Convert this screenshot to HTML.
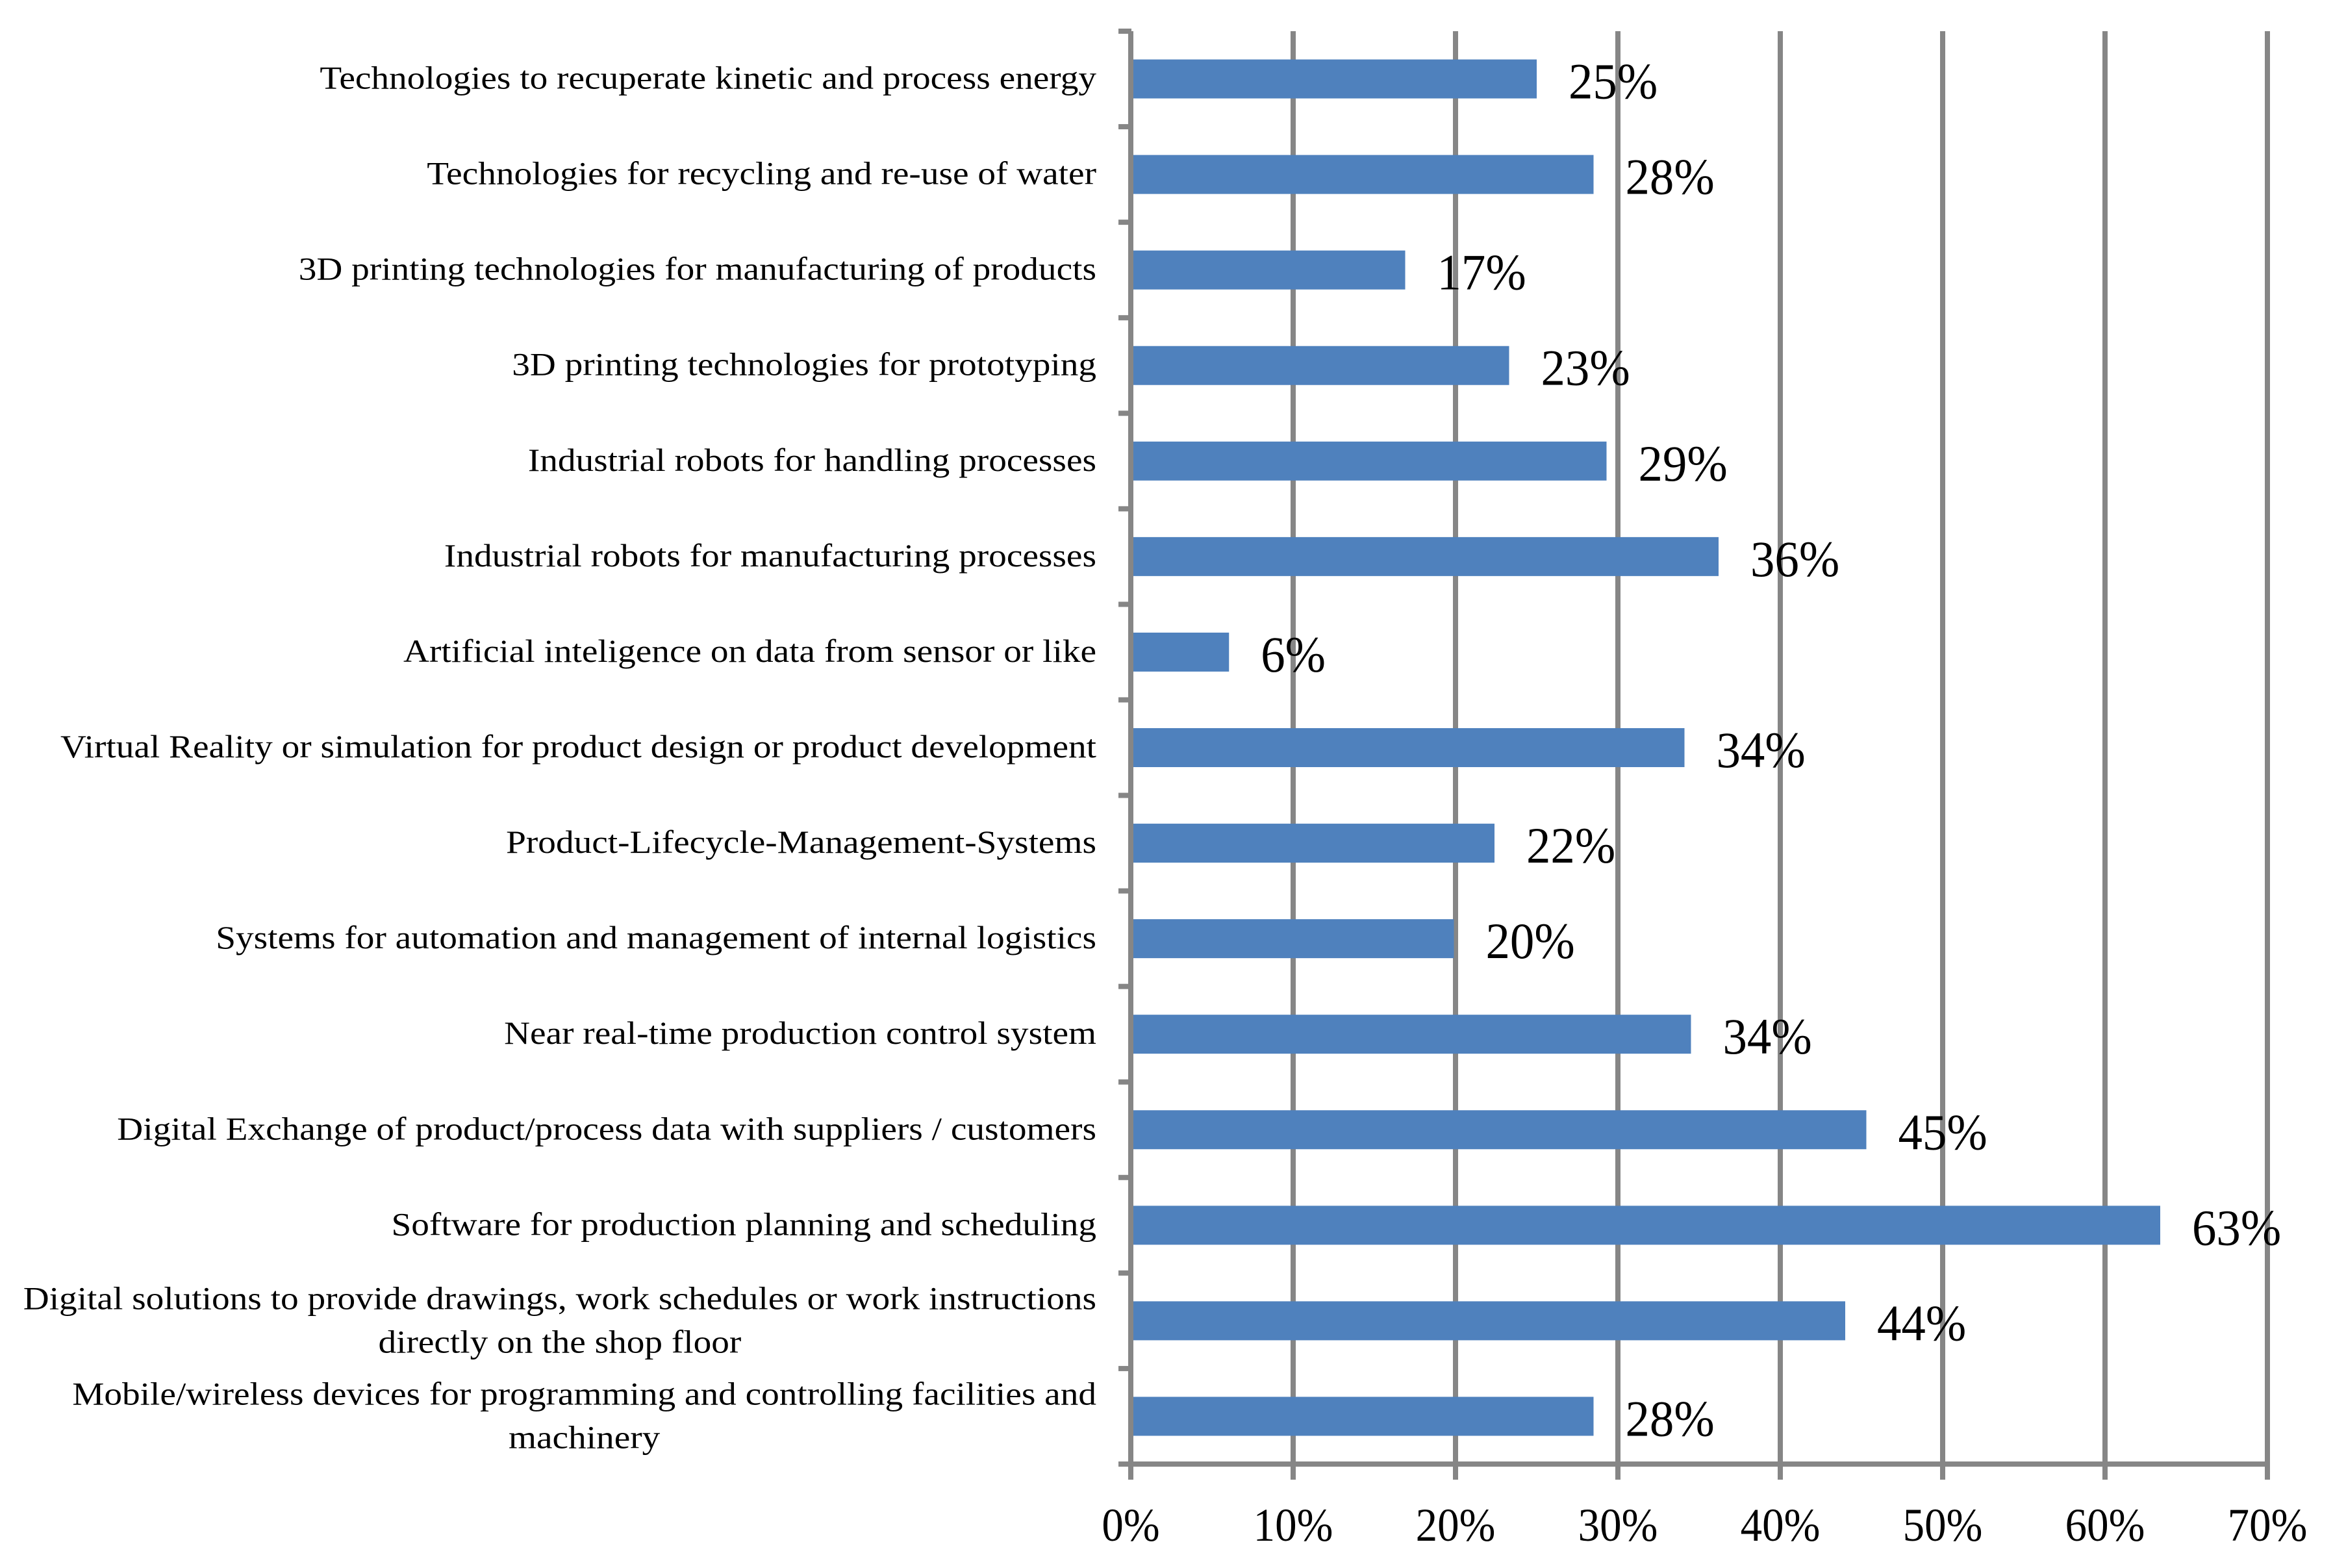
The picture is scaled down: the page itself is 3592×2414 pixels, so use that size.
<!DOCTYPE html>
<html lang="en">
<head>
<meta charset="utf-8">
<title>Technology usage bar chart</title>
<style>
html,body{margin:0;padding:0;background:#fff;width:3592px;height:2414px;overflow:hidden}
svg{display:block}
text{font-family:"Liberation Serif",serif;fill:#000}
</style>
</head>
<body>
<svg id="chart" xmlns="http://www.w3.org/2000/svg" width="3592" height="2414" viewBox="0 0 3592 2414"></svg>
<script>
const categories = [
  ["Technologies to recuperate kinetic and process energy"],
  ["Technologies for recycling and re-use of water"],
  ["3D printing technologies for manufacturing of products"],
  ["3D printing technologies for prototyping"],
  ["Industrial robots for handling processes"],
  ["Industrial robots for manufacturing processes"],
  ["Artificial inteligence on data from sensor or like"],
  ["Virtual Reality or simulation for product design or product development"],
  ["Product-Lifecycle-Management-Systems"],
  ["Systems for automation and management of internal logistics"],
  ["Near real-time production control system"],
  ["Digital Exchange of product/process data with suppliers / customers"],
  ["Software for production planning and scheduling"],
  ["Digital solutions to provide drawings, work schedules or work instructions", "directly on the shop floor"],
  ["Mobile/wireless devices for programming and controlling facilities and", "machinery"]
];
const values = [25.0, 28.5, 16.9, 23.3, 29.3, 36.2, 6.05, 34.1, 22.4, 19.9, 34.5, 45.3, 63.4, 44.0, 28.5];
const printedValues = ["25%", "28%", "17%", "23%", "29%", "36%", "6%", "34%", "22%", "20%", "34%", "45%", "63%", "44%", "28%"];
const xTicks = [0, 10, 20, 30, 40, 50, 60, 70];

const svg = document.getElementById('chart');
const NS = 'http://www.w3.org/2000/svg';
const AX = {left: 1741, right: 3491, top: 48, bottom: 2254, max: 70};
const GREY = '#868686';
const BLUE = '#4f81bd';
const CAT_SCALE = 1.106;

function x(v) { return AX.left + (v / AX.max) * (AX.right - AX.left); }
function band() { return (AX.bottom - AX.top) / categories.length; }
function yEdge(i) { return AX.top + i * band(); }
function yMid(i) { return yEdge(i) + band() / 2; }

function make(tag, attrs, parent) {
  const el = document.createElementNS(NS, tag);
  for (const k in attrs) el.setAttribute(k, attrs[k]);
  (parent || svg).appendChild(el);
  return el;
}

// Gridlines and x tick extensions
xTicks.forEach(function (t) {
  if (t === 0) return;
  const g = make('rect', {x: x(t) - 4, y: AX.top, width: 8, height: 2278 - AX.top, fill: GREY});
  
  
});

// Bars
values.forEach(function (v, i) {
  const b = make('rect', {x: x(0), y: yMid(i) - 30, width: x(v) - x(0), height: 60, fill: BLUE});
  
  
});

// Y axis line
const yAxis = make('rect', {x: x(0) - 4, y: AX.top, width: 8, height: 2278 - AX.top, fill: GREY});



// X axis line
const xAxis = make('rect', {x: 1722, y: AX.bottom - 4, width: x(AX.max) - 1722, height: 8, fill: GREY});



// Y tick marks
for (let i = 0; i < categories.length; i++) {
  const t = make('rect', {x: 1722, y: yEdge(i) - 4, width: 20, height: 8, fill: GREY});
  
  
}

// X tick labels
xTicks.forEach(function (t) {
  const l = make('text', {
    transform: 'translate(' + x(t) + ',2372) scale(0.93,1)',
    'text-anchor': 'middle',
    'font-size': 72
  });
  l.textContent = t + '%';
  
  
});

// Category labels
categories.forEach(function (lines, i) {
  const right = 1688;
  const first = make('text', {'text-anchor': 'end', 'font-size': 50});
  first.textContent = lines[0];
  
  
  if (lines.length === 1) {
    first.setAttribute('transform', 'translate(' + right + ',' + (yMid(i) + 15) + ') scale(' + CAT_SCALE + ',1)');
  } else {
    first.setAttribute('transform', 'translate(' + right + ',' + (yMid(i) - 18) + ') scale(' + CAT_SCALE + ',1)');
    const w = first.getComputedTextLength() * CAT_SCALE;
    const second = make('text', {
      'text-anchor': 'middle',
      'font-size': 50,
      transform: 'translate(' + (right - w / 2) + ',' + (yMid(i) + 49) + ') scale(' + CAT_SCALE + ',1)'
    });
    second.textContent = lines[1];
    
    
  }
});

// Data labels
values.forEach(function (v, i) {
  const d = make('text', {
    transform: 'translate(' + (x(v) + 49) + ',' + (yMid(i) + 30) + ') scale(0.96,1)',
    'font-size': 78
  });
  d.textContent = printedValues[i];
  
  
});
</script>
</body>
</html>
